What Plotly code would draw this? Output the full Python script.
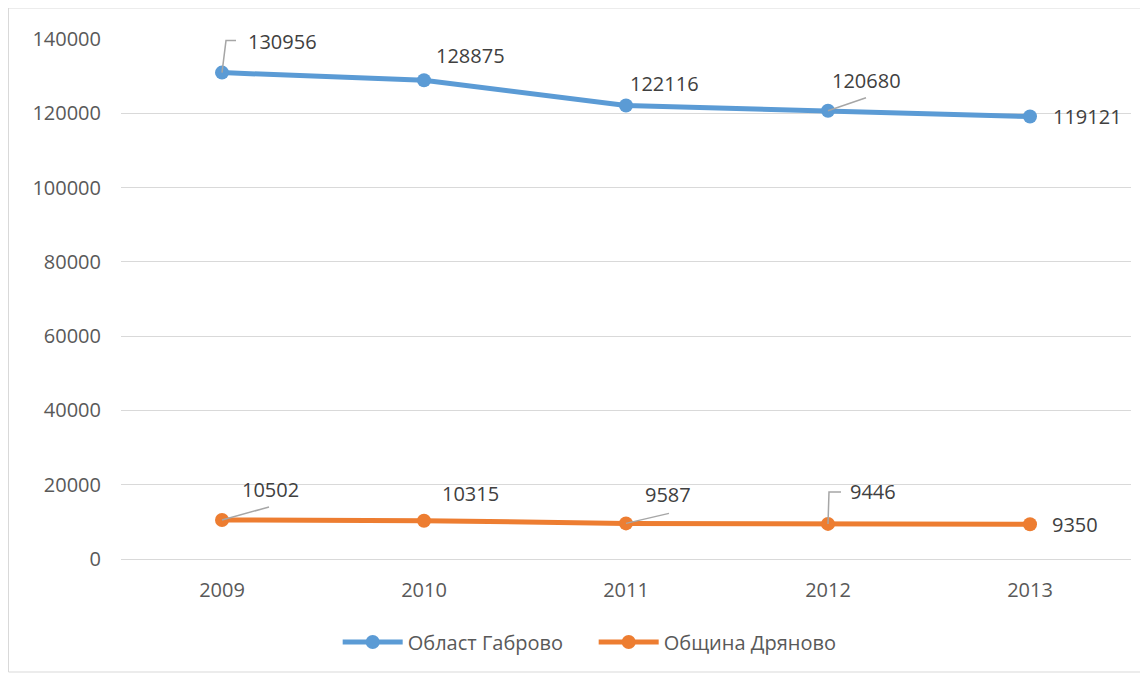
import plotly.graph_objects as go

years = ["2009", "2010", "2011", "2012", "2013"]
gabrovo = [130956, 128875, 122116, 120680, 119121]
dryanovo = [10502, 10315, 9587, 9446, 9350]
series_names = ["Област Габрово", "Община Дряново"]
y_ticks = [0, 20000, 40000, 60000, 80000, 100000, 120000, 140000]

BLUE = "#5B9BD5"
ORANGE = "#ED7D31"
FONT = "Open Sans"

# label offsets in pixels (dx right, dy up) relative to each point
lab_off_1 = [(60, 31), (46, 25), (38, 22), (38, 30), (57, 0)]
lab_off_2 = [(48, 30), (46, 27), (42, 29), (45, 32), (45, 0)]
# leader paths (pixel offsets) : None if no leader
lead_1 = ["M 0 0 L 4 32 L 14 32", None, None, "M 0 0 L 38 13", None]
lead_2 = ["M 0 0 L 47 13", None, "M 0 0 L 43 10", "M 0 0 L 1 32 L 13 32", None]

# the plot div sits 8px inside the page (body margin)
L, T = 113, 31
PW, PH = 1010, 520
W, H = 1148, 675


def px(xp):
    return (xp - L) / PW


def py(yp):
    return (T + PH - yp) / PH


fig = go.Figure()
for name, vals, col in [(series_names[0], gabrovo, BLUE), (series_names[1], dryanovo, ORANGE)]:
    fig.add_trace(go.Scatter(
        x=years, y=vals, name=name, mode="lines+markers",
        line=dict(color=col, width=5),
        marker=dict(color=col, size=14),
    ))

annotations = []
shapes = []
for vals, offs, leads in [(gabrovo, lab_off_1, lead_1), (dryanovo, lab_off_2, lead_2)]:
    for i, (v, (dx, dy), ld) in enumerate(zip(vals, offs, leads)):
        annotations.append(dict(
            x=i, y=v, xref="x", yref="y", text=str(v), showarrow=False,
            xshift=dx, yshift=dy, xanchor="center", yanchor="middle",
            font=dict(family=FONT, size=20, color="#404040"),
        ))
        if ld:
            shapes.append(dict(
                type="path", xref="x", yref="y",
                xsizemode="pixel", ysizemode="pixel",
                xanchor=i, yanchor=v, path=ld,
                line=dict(color="#A6A6A6", width=1.5), layer="above",
            ))

# outer chart border
shapes.append(dict(
    type="rect", xref="paper", yref="paper",
    x0=px(0.5), x1=px(W + 12),
    y0=py(664), y1=py(0),
    line=dict(color="#D9D9D9", width=1), layer="below",
))

fig.update_layout(
    width=W, height=H,
    margin=dict(l=L, r=W - L - PW, t=T, b=H - T - PH),
    paper_bgcolor="white", plot_bgcolor="white",
    font=dict(family=FONT, size=20, color="#595959"),
    showlegend=True,
    legend=dict(
        orientation="h", x=0.468, xanchor="center",
        y=py(634), yanchor="middle",
        font=dict(family=FONT, size=20, color="#595959"),
        itemwidth=60, entrywidth=181, entrywidthmode="pixels",
        traceorder="normal", bgcolor="rgba(0,0,0,0)",
    ),
    annotations=annotations,
    shapes=shapes,
)
fig.update_xaxes(
    type="category", range=[-0.5, 4.5], showgrid=False,
    showline=False, zeroline=False, ticks="",
    ticklabelstandoff=17,
    tickfont=dict(family=FONT, size=20, color="#595959"),
)
fig.update_yaxes(
    range=[0, 140000], tickvals=y_ticks, ticktext=[str(t) for t in y_ticks],
    showgrid=True, gridcolor="#D9D9D9", gridwidth=1,
    zeroline=True, zerolinecolor="#D9D9D9", zerolinewidth=1,
    showline=False, ticks="", ticklabelstandoff=19,
    tickfont=dict(family=FONT, size=20, color="#595959"),
)

fig.write_html("out.html")
